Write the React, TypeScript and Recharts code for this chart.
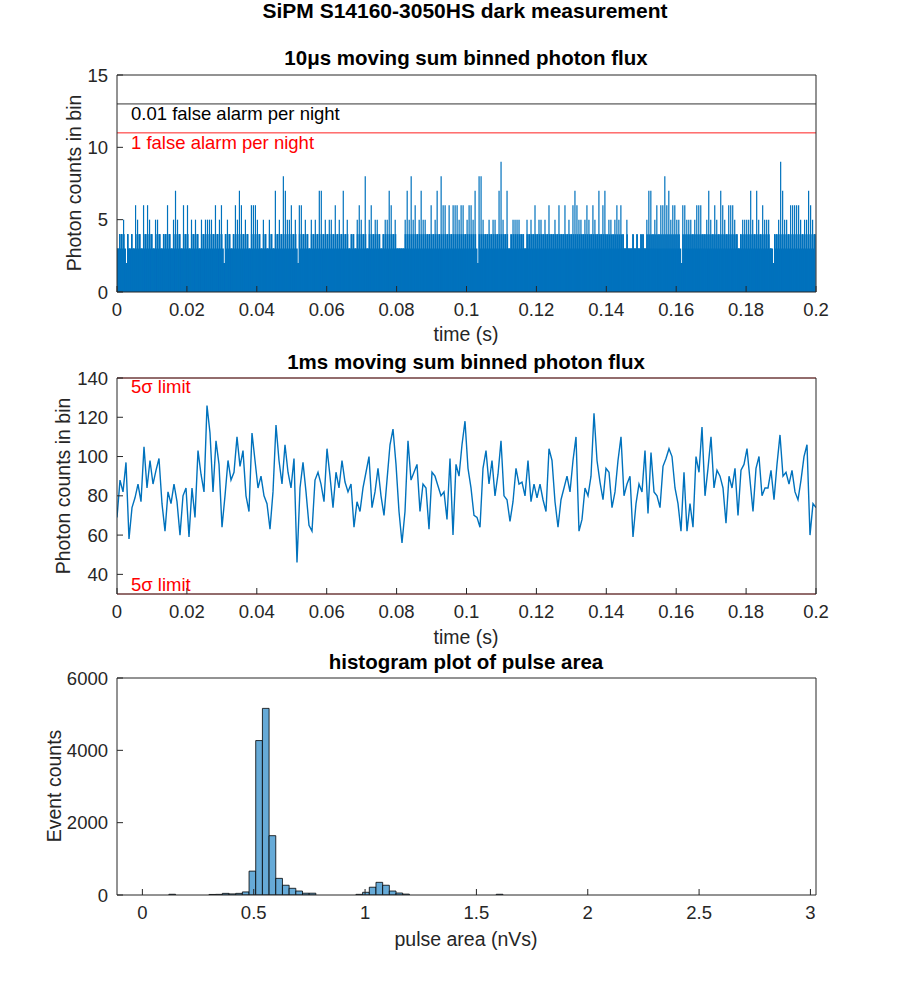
import React from "react";
import { ComposedChart, Bar, Area, Line, XAxis, YAxis, ReferenceLine } from "recharts";

const AX = "#262626";
const BLUE = "#0072BD";
const FONT = '"Liberation Sans", Arial, Helvetica, sans-serif';

// 10us moving sum: highest count in each 2px column of the trace (350 columns over 0.2 s)
const flux10usA = [3,4,4,5,2,4,3,4,3,6, 5,4,3,6,4,6,5,4,3,5, 5,4,3,4,4,6,4,3,5,7, 5,4,3,6,4,6,3,5,4,5, 4,3,5,4,5,5,5,5,4,6];
const flux10usB = [4,5,6,2,4,5,4,3,4,6, 5,7,6,4,5,4,3,6,6,6, 5,4,3,5,4,3,5,4,3,7, 4,5,4,8,7,5,5,6,4,5, 2,6,6,4,5,4,3,5,4,5];
const flux10usC = [4,7,7,4,5,4,5,5,4,6, 4,5,4,7,4,5,3,4,4,3, 5,6,5,4,8,3,5,6,4,5, 5,4,3,4,5,5,7,6,4,5, 3,3,3,3,5,7,5,8,5,6];
const flux10usD = [4,5,7,5,5,4,4,6,4,5, 7,4,8,6,6,4,6,4,6,6, 6,5,6,6,4,5,6,6,5,7, 2,8,8,5,4,4,5,4,5,5, 4,7,9,5,4,7,3,4,5,5];
const flux10usE = [5,5,4,4,3,5,4,5,4,6, 4,5,5,4,5,4,6,4,4,5, 4,6,4,4,6,4,5,4,6,7, 6,5,5,4,5,6,5,4,6,5, 4,7,4,6,7,4,5,5,4,5];
const flux10usF = [6,5,6,4,3,5,3,3,4,3, 4,3,4,4,3,5,7,7,4,5, 6,4,6,6,8,6,7,5,6,6, 5,5,2,6,6,5,5,5,4,5, 6,6,6,4,4,5,7,5,4,6];
const flux10usG = [5,4,7,6,5,4,6,6,6,5, 4,3,4,5,5,5,5,7,5,4, 7,5,4,6,5,5,5,3,2,4, 4,5,9,7,5,5,4,6,6,6, 6,6,5,4,5,5,7,6,5,4];

// 1ms moving sum, one value every 3 px along the time axis (234 samples over 0.2 s)
const flux1msA = [69,88,82,97,58,74,79,86,77,105,84,98,86,93,99,76,62,82,76,86,77,60,80,84,59,84,69,103,91,82,126,112,82,108,96,64,80,98,88,92,110,95,103,80,72,112,98,84,90,80,76,63,82,116,98,86,106,92,84];
const flux1msB = [99,46,84,97,82,65,62,88,92,86,77,104,90,74,92,84,98,87,82,86,64,77,72,84,92,100,74,82,94,80,70,88,106,114,96,72,56,72,108,88,92,96,72,86,84,63,92,90,85,80,82,68,99,60,96,90,106,118];
const flux1msC = [94,84,70,69,64,94,103,86,98,80,91,108,80,78,67,77,94,86,87,80,98,77,86,79,86,78,72,104,98,77,64,78,84,90,82,98,110,62,68,84,80,90,122,98,87,78,94,92,74,82,98,110,80,86,90,59,76,86];
const flux1msD = [82,103,71,102,82,80,74,95,99,104,100,84,76,62,92,62,76,64,100,92,115,80,94,110,84,93,90,84,66,90,84,94,70,93,96,104,88,72,94,100,80,84,84,93,78,96,111,90,92,86,93,82,78,88,100,106,60,76,74];

// pulse area histogram (bin width 0.03 nVs)
const binCenters = [0.134, 0.314, 0.344, 0.374, 0.404, 0.434, 0.464, 0.494, 0.524, 0.554, 0.584, 0.614, 0.644, 0.674, 0.704, 0.734, 0.764, 0.974, 1.004, 1.034, 1.064, 1.094, 1.124, 1.154, 1.184, 1.604];
const binCounts = [20, 15, 18, 45, 30, 45, 85, 660, 4270, 5160, 1640, 460, 270, 185, 110, 50, 50, 18, 75, 215, 350, 270, 110, 55, 25, 20];

const timeTicks = [0, 0.02, 0.04, 0.06, 0.08, 0.1, 0.12, 0.14, 0.16, 0.18, 0.2];
const flux10usTicks = [0, 5, 10, 15];
const flux1msTicks = [40, 60, 80, 100, 120, 140];
const areaTicks = [0, 0.5, 1, 1.5, 2, 2.5, 3];
const countTicks = [0, 2000, 4000, 6000];

const flux10us = [flux10usA, flux10usB, flux10usC, flux10usD, flux10usE, flux10usF, flux10usG].flat();
const flux10usData = flux10us.map((v, i) => ({
    t: ((i + 0.5) * 0.2) / flux10us.length,
    v,
    mid: Math.min(v, 4),
    base: Math.min(v, 3),
}));

const flux1ms = [flux1msA, flux1msB, flux1msC, flux1msD].flat();
const flux1msData = flux1ms.map((v, i) => ({ t: (i * 0.2) / (flux1ms.length - 1), v }));

const histData = binCenters.map((t, i) => ({ t, n: binCounts[i] }));

const tickStyle = { fill: AX, fontSize: 18.5, fontFamily: FONT };

// box with inward ticks on all four sides, like the MATLAB axes
// (the top/right pair needs a series of its own, otherwise recharts skips it)
function frame(xDomain: [number, number], xTicks: number[], yDomain: [number, number], yTicks: number[]) {
    return [
        <XAxis key="xb" type="number" dataKey="t" domain={xDomain} ticks={xTicks} interval={0} allowDataOverflow
            height={30} tickSize={-6} tickMargin={17} stroke={AX} tick={tickStyle} />,
        <XAxis key="xt" xAxisId="top" orientation="top" type="number" dataKey="t" domain={xDomain} ticks={xTicks} interval={0}
            allowDataOverflow height={1} tickSize={-6} stroke={AX} tick={false} />,
        <YAxis key="yl" type="number" domain={yDomain} ticks={yTicks} interval={0} allowDataOverflow
            width={60} tickSize={-6} tickMargin={15} stroke={AX} tick={tickStyle} />,
        <YAxis key="yr" yAxisId="right" orientation="right" type="number" domain={yDomain} ticks={yTicks} interval={0}
            allowDataOverflow width={1} tickSize={-6} stroke={AX} tick={false} />,
    ];
}

const Txt: React.FC<{ x: number; y: number; size: number; bold?: boolean; color?: string; rotate?: boolean; start?: boolean; children: React.ReactNode }> = ({ x, y, size, bold, color, rotate, start, children }) => (
    <div
        style={{
            position: "absolute",
            left: x,
            top: y,
            transform: `translate(${start ? "0" : "-50%"}, -50%)${rotate ? " rotate(-90deg)" : ""}`,
            fontFamily: FONT,
            fontSize: size,
            fontWeight: bold ? "bold" : "normal",
            color: color || AX,
            whiteSpace: "nowrap",
            lineHeight: 1,
        }}
    >
        {children}
    </div>
);

const App: React.FC = () => {
    return (
        <div style={{ position: "absolute", left: 0, top: 0, width: 900, height: 1006, background: "#fff", overflow: "hidden" }}>
            <Txt x={465} y={10} size={21} bold color="#000">SiPM S14160-3050HS dark measurement</Txt>

            {/* 10us panel */}
            <div style={{ position: "absolute", left: 0, top: 0 }}>
                <ComposedChart width={900} height={330} data={flux10usData} margin={{ top: 74, right: 83, bottom: 8, left: 57 }}>
                    {frame([0, 0.2], timeTicks, [0, 15], flux10usTicks)}
                    <Area type="stepAfter" dataKey="base" stroke="none" fill={BLUE} fillOpacity={1} isAnimationActive={false} />
                    <Bar dataKey="mid" barSize={1.7} fill={BLUE} isAnimationActive={false} />
                    <Bar xAxisId="top" yAxisId="right" dataKey="v" barSize={1.2} fill={BLUE} isAnimationActive={false} />
                    <ReferenceLine y={13} stroke="#333333" strokeWidth={1} />
                    <ReferenceLine y={11} stroke="#FF2020" strokeWidth={1} />
                </ComposedChart>
            </div>
            <Txt x={466} y={58} size={20.5} bold color="#000">10μs moving sum binned photon flux</Txt>
            <Txt x={75} y={183} size={19.5} rotate>Photon counts in bin</Txt>
            <Txt x={466} y={335} size={19.5}>time (s)</Txt>
            <Txt x={131} y={114} size={18.5} start color="#000">0.01 false alarm per night</Txt>
            <Txt x={131} y={143} size={18.5} start color="#FF0000">1 false alarm per night</Txt>

            {/* 1ms panel */}
            <div style={{ position: "absolute", left: 0, top: 330 }}>
                <ComposedChart width={900} height={310} data={flux1msData} margin={{ top: 47, right: 83, bottom: 16, left: 57 }}>
                    {frame([0, 0.2], timeTicks, [30, 140], flux1msTicks)}
                    <Line xAxisId="top" yAxisId="right" type="linear" dataKey="v" stroke="none" dot={false} isAnimationActive={false} />
                    <Line type="linear" dataKey="v" stroke={BLUE} strokeWidth={1.4} dot={false} isAnimationActive={false} />
                    <ReferenceLine y={140} stroke="#FF0000" strokeOpacity={0.6} strokeWidth={1} />
                    <ReferenceLine y={30} stroke="#FF0000" strokeOpacity={0.6} strokeWidth={1} />
                </ComposedChart>
            </div>
            <Txt x={466} y={362} size={20.5} bold color="#000">1ms moving sum binned photon flux</Txt>
            <Txt x={64} y={486} size={19.5} rotate>Photon counts in bin</Txt>
            <Txt x={466} y={638} size={19.5}>time (s)</Txt>
            <Txt x={131} y={387} size={18.5} start color="#FF0000">5σ limit</Txt>
            <Txt x={131} y={585} size={18.5} start color="#FF0000">5σ limit</Txt>

            {/* histogram panel */}
            <div style={{ position: "absolute", left: 0, top: 640 }}>
                <ComposedChart width={900} height={290} data={histData} margin={{ top: 37, right: 83, bottom: 5, left: 57 }}>
                    {frame([-0.114, 3.025], areaTicks, [0, 6000], countTicks)}
                    <Line xAxisId="top" yAxisId="right" type="linear" dataKey="n" stroke="none" dot={false} isAnimationActive={false} />
                    <Bar dataKey="n" barSize={6.68} fill="#66AAD7" stroke="#000" strokeWidth={0.8} isAnimationActive={false} />
                </ComposedChart>
            </div>
            <Txt x={466} y={662} size={20.5} bold color="#000">histogram plot of pulse area</Txt>
            <Txt x={55} y={786} size={19.5} rotate>Event counts</Txt>
            <Txt x={466} y={940} size={19.5}>pulse area (nVs)</Txt>
        </div>
    );
};

export default App;
